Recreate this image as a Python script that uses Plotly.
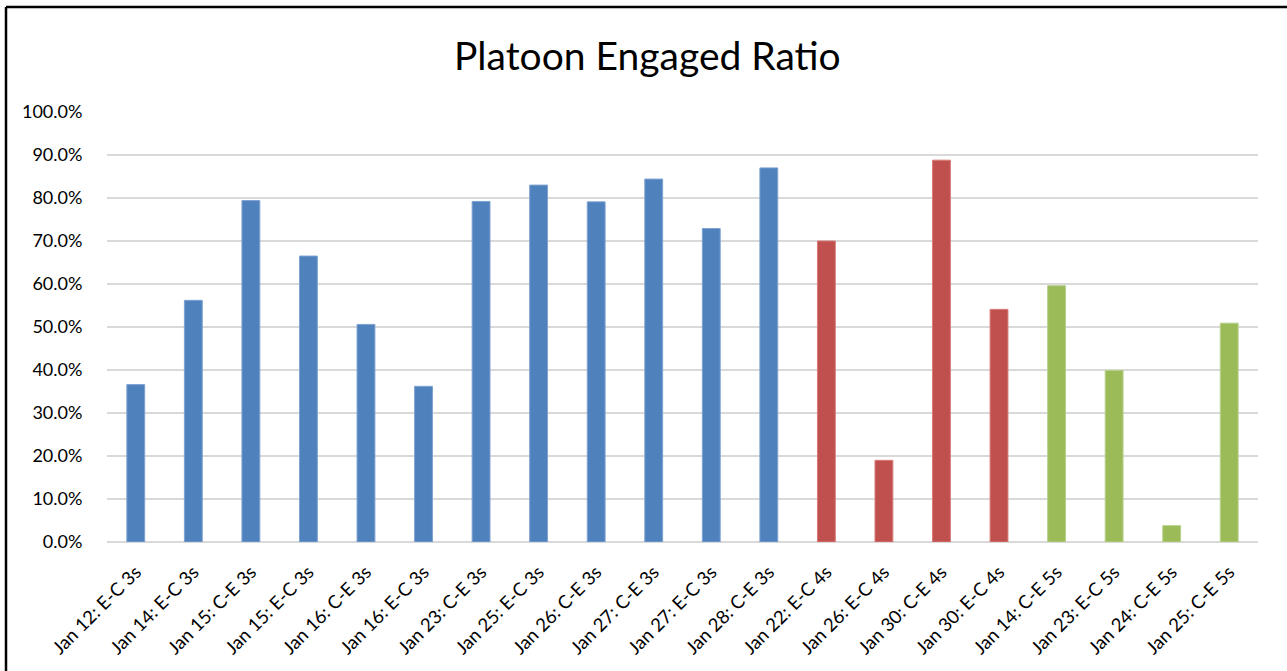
import plotly.graph_objects as go

categories = [
    "Jan 12: E-C 3s", "Jan 14: E-C 3s", "Jan 15: C-E 3s", "Jan 15: E-C 3s",
    "Jan 16: C-E 3s", "Jan 16: E-C 3s", "Jan 23: C-E 3s", "Jan 25: E-C 3s",
    "Jan 26: C-E 3s", "Jan 27: C-E 3s", "Jan 27: E-C 3s", "Jan 28: C-E 3s",
    "Jan 22: E-C 4s", "Jan 26: E-C 4s", "Jan 30: C-E 4s", "Jan 30: E-C 4s",
    "Jan 14: C-E 5s", "Jan 23: E-C 5s", "Jan 24: C-E 5s", "Jan 25: C-E 5s",
]
values = [
    0.366, 0.562, 0.794, 0.665, 0.506, 0.362, 0.792, 0.830, 0.791, 0.844,
    0.729, 0.870, 0.700, 0.190, 0.888, 0.541, 0.596, 0.399, 0.038, 0.509,
]
groups = ["3s"] * 12 + ["4s"] * 4 + ["5s"] * 4
group_colors = {"3s": "#4F81BD", "4s": "#C0504D", "5s": "#9BBB59"}
group_edges = {"3s": "#7EA2D2", "4s": "#D77B78", "5s": "#B7D18B"}
y_ticks = [i / 10 for i in range(11)]

W, H = 1287, 671
ml, mr, mt, mb = 107, 29, 112, 129
pw, ph = W - ml - mr, H - mt - mb

fig = go.Figure()
fig.add_trace(go.Bar(
    x=categories,
    y=values,
    marker=dict(
        color=[group_colors[g] for g in groups],
        line=dict(color=[group_edges[g] for g in groups], width=1),
    ),
    showlegend=False,
))

font_family = "Lato, Open Sans, sans-serif"

# frame (left and top edges of the chart-area border)
fx0 = (6 - ml) / pw
fy_top = (H - 7 - mb) / ph
fig.add_shape(type="line", xref="paper", yref="paper", x0=fx0, x1=fx0,
              y0=fy_top, y1=(0 - mb) / ph, line=dict(color="#000000", width=2.5))
fig.add_shape(type="line", xref="paper", yref="paper", x0=fx0, x1=(W - ml) / pw + 0.01,
              y0=fy_top, y1=fy_top, line=dict(color="#000000", width=2.5))

fig.update_layout(
    width=W, height=H,
    margin=dict(l=ml, r=mr, t=mt, b=mb, pad=0, autoexpand=False),
    paper_bgcolor="white", plot_bgcolor="white",
    bargap=0.69,
    title=dict(text="Platoon Engaged Ratio", x=0.503, xref="container",
               y=1 - 56 / H, yref="container", yanchor="middle",
               font=dict(family=font_family, size=39, color="#000000")),
    font=dict(family=font_family, size=18, color="#000000"),
    xaxis=dict(
        type="category", tickangle=-45, showgrid=False, showline=False,
        automargin=False,
        ticks="outside", ticklen=11, tickcolor="rgba(0,0,0,0)",
        tickfont=dict(size=18.5, color="#000000"),
    ),
    yaxis=dict(
        range=[0, 1], tickvals=y_ticks, tickformat=".1%", automargin=False,
        showgrid=True, gridcolor="#D9D9D9", gridwidth=1.5,
        zeroline=True, zerolinecolor="#D9D9D9", zerolinewidth=1.5,
        showline=False, ticks="outside", ticklen=20, tickcolor="rgba(0,0,0,0)",
        tickfont=dict(size=18, color="#000000"),
    ),
)

fig.write_html("out.html")
